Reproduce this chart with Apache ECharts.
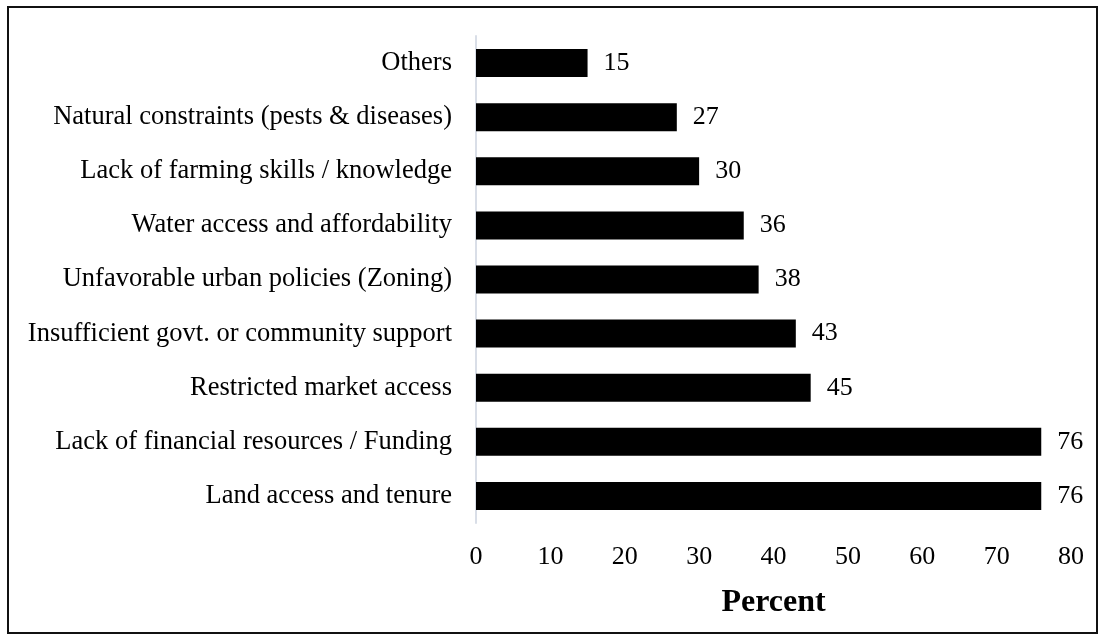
<!DOCTYPE html>
<html>
<head>
<meta charset="utf-8">
<script src="https://cdn.jsdelivr.net/npm/echarts@6/dist/echarts.min.js"></script>
<style>
  html, body { margin: 0; padding: 0; background: #fff; }
  #frame {
    position: absolute; left: 7px; top: 6px;
    width: 1091px; height: 628px;
    border: 2px solid #111; box-sizing: border-box;
  }
  #chart { position: absolute; left: 0; top: 0; width: 1107px; height: 643px; }
</style>
</head>
<body>
<div id="frame"></div>
<div id="chart"></div>
<script>
// bottom to top, same order as the axis
const categories = [
  'Land access and tenure',
  'Lack of financial resources / Funding',
  'Restricted market access',
  'Insufficient govt. or community support',
  'Unfavorable urban policies (Zoning)',
  'Water access and affordability',
  'Lack of farming skills / knowledge',
  'Natural constraints (pests & diseases)',
  'Others'
]
const percents = [76, 76, 45, 43, 38, 36, 30, 27, 15]

const font = '"Liberation Serif", "Times New Roman", serif'

const chart = echarts.init(document.getElementById('chart'))

chart.setOption({
  animation: false,
  textStyle: { fontFamily: font },
  grid: { left: 476, right: 36, top: 36, bottom: 120 },
  xAxis: {
    type: 'value',
    min: 0,
    max: 80,
    interval: 10,
    name: 'Percent',
    nameLocation: 'middle',
    nameGap: 64,
    nameTextStyle: { fontFamily: font, fontSize: 32, fontWeight: 'bold', color: '#000' },
    axisLine: { show: false },
    axisTick: { show: false },
    splitLine: { show: false },
    axisLabel: { fontFamily: font, fontSize: 26, color: '#000', margin: 21 }
  },
  yAxis: {
    type: 'category',
    data: categories,
    axisLine: { show: true, lineStyle: { color: '#d9dee7', width: 2 } },
    axisTick: { show: false },
    axisLabel: { fontFamily: font, fontSize: 26.5, color: '#000', margin: 24 }
  },
  series: [
    {
      type: 'bar',
      data: percents,
      barWidth: 28,
      itemStyle: { color: '#000' },
      label: {
        show: true,
        position: 'right',
        distance: 16,
        fontFamily: font,
        fontSize: 26,
        color: '#000'
      }
    }
  ]
})
</script>
</body>
</html>
